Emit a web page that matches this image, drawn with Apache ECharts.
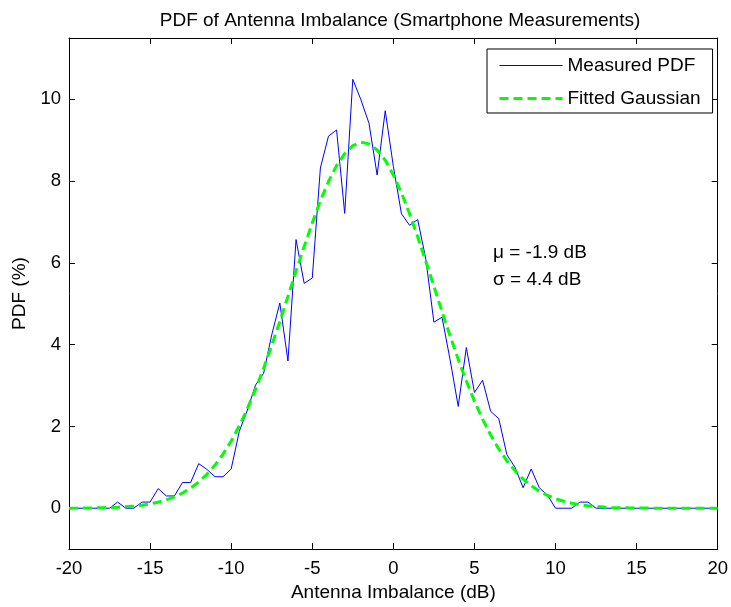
<!DOCTYPE html>
<html>
<head>
<meta charset="utf-8">
<script src="https://cdn.jsdelivr.net/npm/echarts@6/dist/echarts.min.js"></script>
<style>
html,body{margin:0;padding:0;background:#fff;}
#chart{width:731px;height:607px;}
</style>
</head>
<body>
<div id="chart"></div>
<script>
// Data
const imbalanceDb = [-20,-19.5,-19,-18.5,-18,-17.5,-17,-16.5,-16,-15.5,-15,-14.5,-14,-13.5,-13,-12.5,-12,-11.5,-11,-10.5,-10,-9.5,-9,-8.5,-8,-7.5,-7,-6.5,-6,-5.5,-5,-4.5,-4,-3.5,-3,-2.5,-2,-1.5,-1,-0.5,0,0.5,1,1.5,2,2.5,3,3.5,4,4.5,5,5.5,6,6.5,7,7.5,8,8.5,9,9.5,10,10.5,11,11.5,12,12.5,13,13.5,14,14.5,15,15.5,16,16.5,17,17.5,18,18.5,19,19.5,20];
const measuredPdf = [0,0,0,0,0,0,0.15,0,0,0.15,0.15,0.48,0.3,0.3,0.63,0.63,1.09,0.95,0.77,0.77,0.96,1.88,2.4,3.01,3.3,4.24,5.02,3.6,6.57,5.5,5.63,8.32,9.1,9.25,7.21,10.49,9.99,9.41,8.15,9.72,8.36,7.2,6.92,7.06,6.1,4.55,4.67,3.63,2.49,3.93,2.83,3.13,2.37,2.19,1.31,1.0,0.5,0.96,0.5,0.32,0,0,0,0.15,0.15,0,0,0,0,0,0,0,0,0,0,0,0,0,0,0,0];
const fittedGaussian = [0.002,0.003,0.005,0.007,0.011,0.017,0.025,0.036,0.053,0.075,0.107,0.148,0.204,0.277,0.372,0.492,0.643,0.829,1.054,1.325,1.645,2.015,2.435,2.905,3.424,3.98,4.57,5.18,5.80,6.40,6.98,7.52,7.99,8.38,8.67,8.87,8.95,8.91,8.76,8.51,8.15,7.71,7.20,6.64,6.04,5.43,4.81,4.21,3.64,3.11,2.62,2.18,1.79,1.45,1.16,0.914,0.712,0.548,0.416,0.312,0.231,0.169,0.122,0.087,0.061,0.042,0.029,0.020,0.013,0.009,0.006,0.004,0.002,0.001,0.001,0,0,0,0,0,0];
const xTicks = [-20,-15,-10,-5,0,5,10,15,20];
const yTicks = [0,2,4,6,8,10];
const seriesNames = ['Measured PDF','Fitted Gaussian'];
const titleText = 'PDF of Antenna Imbalance (Smartphone Measurements)';
const xName = 'Antenna Imbalance (dB)';
const yName = 'PDF (%)';
const statsText = ['\u03bc = -1.9 dB', '\u03c3 = 4.4 dB'];

const FONT = '"Liberation Sans", Arial, Helvetica, sans-serif';
const chart = echarts.init(document.getElementById('chart'), null, {renderer:'canvas'});

const baseX = {
  type:'value', min:-20, max:20, interval:5,
  axisLine:{show:true,onZero:false,lineStyle:{color:'#000',width:1}},
  axisTick:{show:true,inside:true,length:6,lineStyle:{color:'#000'}},
  splitLine:{show:false}
};
const baseY = {
  type:'value', min:-1, max:11.5, interval:1,
  axisLine:{show:true,onZero:false,lineStyle:{color:'#000',width:1}},
  axisTick:{show:true,inside:true,length:6,lineStyle:{color:'#000'},customValues:yTicks},
  splitLine:{show:false}
};

const option = {
  backgroundColor:'#fff',
  animation:false,
  title:{
    text:titleText, left:395, top:6, textAlign:'center',
    textStyle:{fontFamily:FONT,fontSize:19,fontWeight:'normal',color:'#000'}
  },
  grid:{left:69,right:10,top:38,bottom:55,containLabel:false},
  legend:{
    orient:'vertical', left:487, top:49,
    backgroundColor:'#fff', borderColor:'#000', borderWidth:1, borderRadius:0,
    padding:[7,12,5,11],
    itemWidth:63, itemHeight:14, itemGap:14,
    itemStyle:{opacity:0},
    textStyle:{fontFamily:FONT,fontSize:19,color:'#000',lineHeight:18},
    data:[
      {name:seriesNames[0], lineStyle:{color:'#0000ff',width:1,type:'solid'}},
      {name:seriesNames[1], lineStyle:{color:'#00ff00',width:3,type:[9,5]}}
    ]
  },
  xAxis:[
    Object.assign({}, baseX, {
      position:'bottom',
      name:xName, nameLocation:'middle', nameGap:31,
      nameTextStyle:{fontFamily:FONT,fontSize:19,color:'#000'},
      axisLabel:{show:true,margin:10,fontFamily:FONT,fontSize:18.5,color:'#000',customValues:xTicks}
    }),
    Object.assign({}, baseX, {position:'top', axisLabel:{show:false}})
  ],
  yAxis:[
    Object.assign({}, baseY, {
      position:'left',
      name:yName, nameLocation:'middle', nameGap:36,
      nameTextStyle:{fontFamily:FONT,fontSize:19,color:'#000'},
      axisLabel:{show:true,margin:8,fontFamily:FONT,fontSize:18.5,color:'#000',customValues:yTicks}
    }),
    Object.assign({}, baseY, {position:'right', axisLabel:{show:false}})
  ],
  graphic:[
    {type:'text', left:493, top:243, style:{text:statsText[0], font:'19px '+FONT, fill:'#000'}},
    {type:'text', left:493, top:270, style:{text:statsText[1], font:'19px '+FONT, fill:'#000'}}
  ],
  series:[
    {
      name:seriesNames[0], type:'line', xAxisIndex:0, yAxisIndex:0,
      data:imbalanceDb.map((x,i)=>[x,measuredPdf[i]]),
      showSymbol:false, symbol:'none',
      lineStyle:{color:'#0000ff',width:1},
      itemStyle:{color:'#0000ff'},
      z:2
    },
    {
      name:seriesNames[1], type:'line', xAxisIndex:0, yAxisIndex:0,
      data:imbalanceDb.map((x,i)=>[x,fittedGaussian[i]]),
      showSymbol:false, symbol:'none',
      lineStyle:{color:'#00ff00',width:3,type:[9,5]},
      itemStyle:{color:'#00ff00'},
      z:3
    }
  ]
};
chart.setOption(option);
</script>
</body>
</html>
